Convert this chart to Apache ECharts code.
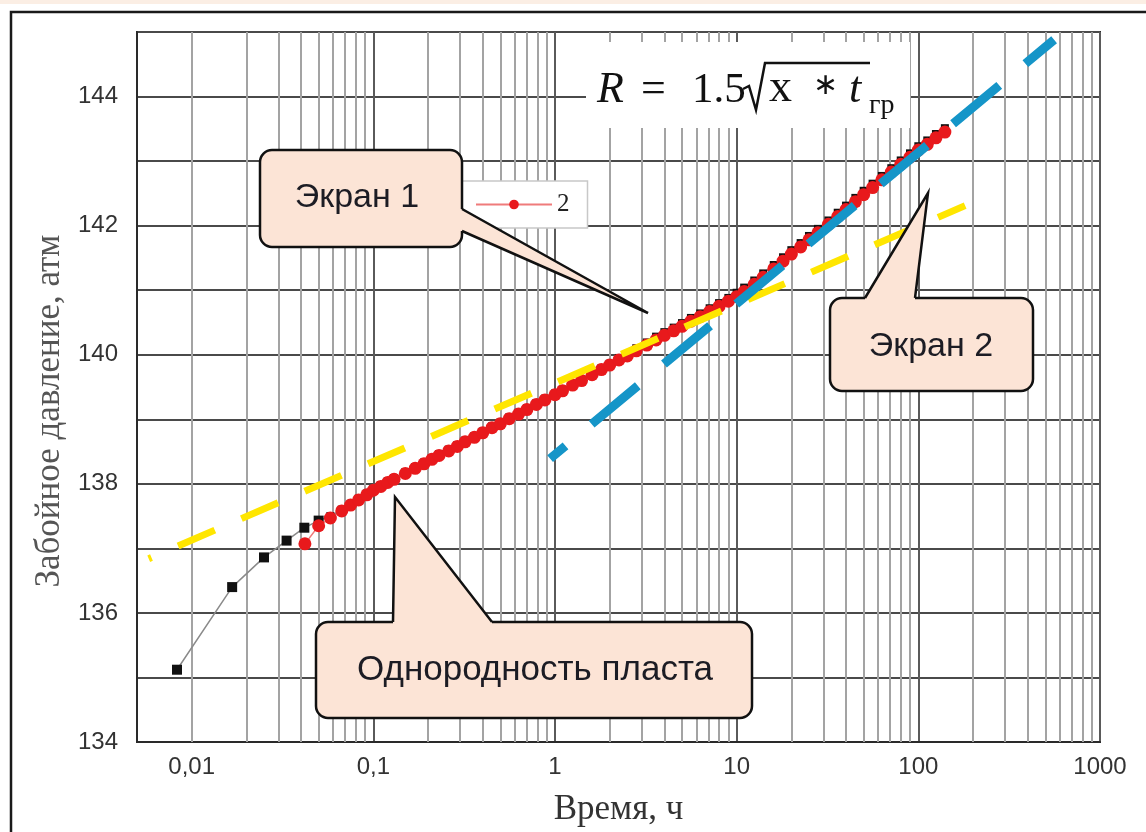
<!DOCTYPE html>
<html><head><meta charset="utf-8">
<script src="https://cdn.jsdelivr.net/npm/echarts@6/dist/echarts.min.js"></script>
<style>html,body{margin:0;padding:0;background:#fff}#c{width:1146px;height:832px}</style>
</head><body><div id="c"></div>
<script>
// ---- data ----
const xTickValues = [0.01, 0.1, 1, 10, 100, 1000];
const xTickLabels = ['0,01', '0,1', '1', '10', '100', '1000'];
const yTickValues = [134, 136, 138, 140, 142, 144];
const yTickLabels = ['134', '136', '138', '140', '142', '144'];

const blackTimes = [0.0083,0.0167,0.025,0.0333,0.0417,0.05,
 0.058,0.067,0.075,0.083,0.092,0.1,
 0.11,0.12,0.13,0.15,0.17,0.19,0.21,0.23,0.26,0.29,0.32,0.36,0.4,0.45,0.5,0.56,0.63,0.7,0.79,0.88,
 1.0,1.1,1.25,1.4,1.6,1.8,2.0,2.25,2.5,2.8,3.2,3.6,4.0,4.5,5.0,5.6,6.3,7.1,8,9,
 10,11,12.5,14,16,18,20,22.5,25,28,32,36,40,45,50,56,63,71,80,90,
 100,112,125,140];
const blackValues = [135.12,136.40,136.86,137.12,137.32,137.43,
 137.50,137.60,137.69,137.77,137.85,137.92,
 137.98,138.04,138.09,138.18,138.26,138.33,138.40,138.46,138.53,138.60,138.67,138.74,138.81,138.89,138.95,139.03,139.10,139.17,139.25,139.32,
 139.40,139.46,139.55,139.62,139.71,139.79,139.86,139.95,140.01,140.10,140.19,140.28,140.35,140.42,140.49,140.57,140.64,140.72,140.80,140.88,
 140.96,141.04,141.15,141.26,141.39,141.51,141.62,141.73,141.84,141.95,142.08,142.20,142.31,142.43,142.54,142.65,142.77,142.89,143.01,143.12,
 143.23,143.32,143.42,143.51];

const redTimes = [0.042,0.05,0.058,0.067,0.075,0.083,0.092,0.1,
 0.11,0.12,0.13,0.15,0.17,0.19,0.21,0.23,0.26,0.29,0.32,0.36,0.4,0.45,0.5,0.56,0.63,0.7,0.79,0.88,
 1.0,1.1,1.25,1.4,1.6,1.8,2.0,2.25,2.5,2.8,3.2,3.6,4.0,4.5,5.0,5.6,6.3,7.1,8,9,
 10,11,12.5,14,16,18,20,22.5,25,28,32,36,40,45,50,56,63,71,80,90,
 100,112,125,140];
const redValues = [137.07,137.35,137.47,137.58,137.67,137.75,137.83,137.90,
 137.96,138.02,138.07,138.16,138.24,138.31,138.38,138.44,138.51,138.58,138.65,138.72,138.79,138.87,138.93,139.01,139.08,139.15,139.23,139.30,
 139.38,139.44,139.53,139.60,139.69,139.77,139.84,139.92,139.98,140.06,140.15,140.23,140.30,140.37,140.44,140.52,140.59,140.67,140.75,140.83,
 140.90,140.98,141.09,141.20,141.33,141.45,141.56,141.67,141.78,141.89,142.02,142.14,142.25,142.37,142.48,142.59,142.71,142.83,142.95,143.06,
 143.17,143.26,143.36,143.45];

const yellowTimes = [0.0058, 181];
const yellowValues = [136.84, 142.31];
const blueTimes = [0.94, 559];
const blueValues = [138.39, 144.88];

const seriesNames = ['1', '2'];
const legendNames = ['2'];
const xAxisTitle = 'Время, ч';
const yAxisTitle = 'Забойное давление, атм';
const callout1 = 'Экран 1';
const callout2 = 'Экран 2';
const callout3 = 'Однородность пласта';

// ---- build ----
const zip = (a, b) => a.map((t, i) => [t, b[i]]);
const minorGrid = [];
for (let d = -3; d <= 2; d++) {
  for (let k = 2; k <= 9; k++) {
    const v = +(k * Math.pow(10, d)).toPrecision(4);
    if (v > 0.0051 && v < 1000) minorGrid.push({ xAxis: v });
  }
}
const near = (v, arr) => arr.findIndex(a => Math.abs(Math.log10(v) - Math.log10(a)) < 1e-6);

const SANS = 'Liberation Sans, Arial, sans-serif';
const SERIF = 'Liberation Serif, Times New Roman, serif';
const peach = '#FCE4D6';
const ink = '#111';

function callout(box, b1, tip, b2, in1, in2, label, tx, ty, fs) {
  return [
    { type: 'rect', z: 160, silent: true, shape: { x: box[0], y: box[1], width: box[2], height: box[3], r: 12 },
      style: { fill: peach, stroke: ink, lineWidth: 2.5 } },
    { type: 'polygon', z: 161, silent: true, shape: { points: [b1, tip, b2, in2, in1] }, style: { fill: peach } },
    { type: 'polyline', z: 162, silent: true, shape: { points: [b1, tip, b2] },
      style: { fill: 'none', stroke: ink, lineWidth: 2.5 } },
    { type: 'text', z: 163, silent: true, x: tx, y: ty,
      style: { text: label, fontFamily: SANS, fontSize: fs, fill: '#1c1c24', align: 'center', verticalAlign: 'middle' } }
  ];
}
const c1 = callout([260, 150, 202, 97], [462, 209], [648, 313], [462, 231], [455, 209], [455, 231], callout1, 357, 198, 34);
const c2 = callout([830, 298, 203, 93], [865, 298], [928, 193], [915, 298], [865, 305], [915, 305], callout2, 931, 347, 34);
const c3 = callout([316, 622, 436, 96], [393, 622], [395, 497], [492, 622], [393, 629], [492, 629], callout3, 535, 670, 35);

const ftxt = (s, x, y, size, italic, va) => ({ type: 'text', z: 151, silent: true, x, y,
  style: { text: s, fontFamily: SERIF, fontSize: size, fontStyle: italic ? 'italic' : 'normal', fill: ink, verticalAlign: va || 'bottom' } });

const chart = echarts.init(document.getElementById('c'));
chart.setOption({
  animation: false,
  backgroundColor: '#fff',
  grid: { left: 137, right: 46, top: 32, bottom: 84, show: true, borderColor: '#2a2a2a', borderWidth: 2, backgroundColor: 'transparent' },
  legend: {
    data: legendNames, left: 461, top: 181, orient: 'horizontal',
    backgroundColor: '#fff', borderColor: '#c8c8c8', borderWidth: 1.5,
    padding: [11, 18, 11, 14], itemWidth: 76, itemHeight: 12,
    textStyle: { fontFamily: SERIF, fontSize: 25, color: '#222' }
  },
  xAxis: {
    type: 'log', logBase: 10, min: 0.005, max: 1000,
    name: xAxisTitle, nameLocation: 'middle', nameGap: 50,
    nameTextStyle: { fontFamily: SERIF, fontSize: 35, color: '#333' },
    axisLine: { show: true, lineStyle: { color: '#2a2a2a', width: 2 } },
    axisTick: { show: false },
    axisLabel: {
      fontFamily: SANS, fontSize: 24, color: '#333', margin: 13,
      formatter: v => { const i = near(v, xTickValues); return i >= 0 ? xTickLabels[i] : ''; }
    },
    splitLine: { show: true, lineStyle: { color: '#5a5a5a', width: 2 } }
  },
  yAxis: {
    type: 'value', min: 134, max: 145, interval: 1,
    axisLine: { show: true, lineStyle: { color: '#2a2a2a', width: 2 } },
    axisTick: { show: false },
    axisLabel: {
      fontFamily: SANS, fontSize: 24, color: '#333', margin: 19,
      formatter: v => { const i = yTickValues.indexOf(Math.round(v)); return (i >= 0 && Math.abs(v - Math.round(v)) < 1e-6) ? yTickLabels[i] : ''; }
    },
    splitLine: { show: true, lineStyle: { color: '#4a4a4a', width: 2 } }
  },
  series: [
    {
      name: seriesNames[0], type: 'line', data: zip(blackTimes, blackValues),
      symbol: 'rect', symbolSize: (val) => (val[0] <= 0.051 ? 10 : 8), itemStyle: { color: '#111' },
      lineStyle: { color: '#8a8a8a', width: 1.5 }, z: 3,
      markLine: {
        silent: true, symbol: 'none', z: 1, animation: false,
        label: { show: false },
        lineStyle: { color: '#a3a3a3', width: 2, type: 'solid' },
        data: minorGrid
      }
    },
    {
      name: seriesNames[1], type: 'line', data: zip(redTimes, redValues),
      symbol: 'circle', symbolSize: 13, itemStyle: { color: '#E8191C', borderWidth: 0 },
      lineStyle: { color: '#ef7b7b', width: 1.5 }, z: 4
    },
    {
      name: 'yellow', type: 'line', data: zip(yellowTimes, yellowValues),
      symbol: 'none', z: 5,
      lineStyle: { color: '#FFE600', width: 7, type: [40, 29], dashOffset: 37, cap: 'butt' }
    },
    {
      name: 'blue', type: 'line', data: zip(blueTimes, blueValues),
      symbol: 'none', z: 6,
      lineStyle: { color: '#1595C8', width: 9, type: [60, 34], dashOffset: 40, cap: 'butt' }
    }
  ],
  graphic: [
    { type: 'rect', z: 200, silent: true, shape: { x: 0, y: 0, width: 1146, height: 4 }, style: { fill: '#fbeee4' } },
    { type: 'rect', z: 200, silent: true, shape: { x: 11, y: 12, width: 1200, height: 900 }, style: { fill: 'none', stroke: '#1a1a1a', lineWidth: 2.5 } },
    // formula box
    { type: 'rect', z: 150, silent: true, shape: { x: 586, y: 42, width: 324, height: 86 }, style: { fill: '#fff' } },
    ftxt('R', 597, 112, 44, true),
    ftxt('=', 641, 112, 44, false),
    ftxt('1.5', 692, 112, 43, false),
    ftxt('x', 769, 112, 46, false),
    ftxt('∗', 813, 86, 30, false, 'middle'),
    ftxt('t', 849, 112, 44, true),
    ftxt('гр', 869, 120, 28, false),
    { type: 'polyline', z: 151, silent: true, shape: { points: [[743, 89], [749, 86], [756, 110], [765, 63], [870, 63]] },
      style: { fill: 'none', stroke: ink, lineWidth: 2.5 } },
    ...c1, ...c2, ...c3,
    // y axis title
    { type: 'text', z: 100, silent: true, x: 50, y: 411, rotation: Math.PI / 2,
      style: { text: yAxisTitle, fontFamily: SERIF, fontSize: 35, fill: '#555', align: 'center', verticalAlign: 'middle' } }
  ]
});
</script>
</body></html>
